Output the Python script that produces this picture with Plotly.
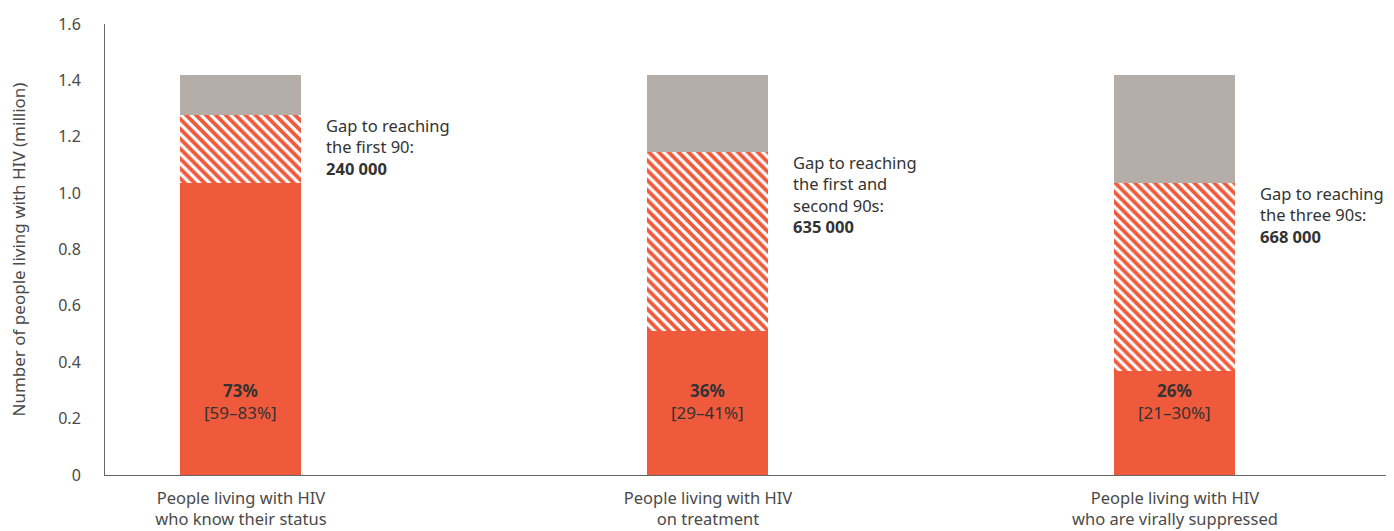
import plotly.graph_objects as go

categories = ["People living with HIV<br>who know their status",
              "People living with HIV<br>on treatment",
              "People living with HIV<br>who are virally suppressed"]
achieved = [1.037, 0.511, 0.369]          # million
gap_to_target = [0.240, 0.635, 0.668]     # million
remainder = [0.143, 0.274, 0.383]         # million
pct_labels = ["73%", "36%", "26%"]
range_labels = ["[59–83%]", "[29–41%]", "[21–30%]"]
gap_labels = ["Gap to reaching<br>the first 90:",
              "Gap to reaching<br>the first and<br>second 90s:",
              "Gap to reaching<br>the three 90s:"]
gap_values = ["240 000", "635 000", "668 000"]
y_ticks = [0, 0.2, 0.4, 0.6, 0.8, 1.0, 1.2, 1.4, 1.6]
y_tick_text = ["0", "0.2", "0.4", "0.6", "0.8", "1.0", "1.2", "1.4", "1.6"]

x = [0, 1, 2]
RED = "#F05A3C"
GREY = "#B5ADA7"
TXT = "#333333"
AX = "#4a4a4a"
FONT = "Noto Sans"

fig = go.Figure()
fig.add_bar(x=x, y=achieved, marker=dict(color=RED, line=dict(width=0)), width=0.259, hoverinfo="skip")
fig.add_bar(x=x, y=gap_to_target, width=0.259, hoverinfo="skip",
            marker=dict(color="white", line=dict(width=0),
                        pattern=dict(shape="\\", fgcolor=RED, bgcolor="white", fgopacity=1,
                                     size=7, solidity=0.55)))
fig.add_bar(x=x, y=remainder, marker=dict(color=GREY, line=dict(width=0)), width=0.259, hoverinfo="skip")

for i in range(3):
    fig.add_annotation(x=x[i], y=0.26, xref="x", yref="y", showarrow=False,
                       text=f"<b>{pct_labels[i]}</b><br>{range_labels[i]}",
                       font=dict(family=FONT, size=17, color=TXT), yanchor="middle", align="center")
    top = achieved[i] + gap_to_target[i]
    fig.add_annotation(x=x[i] + 0.177, y=top, xref="x", yref="y", showarrow=False,
                       text=f"{gap_labels[i]}<br><b>{gap_values[i]}</b>",
                       font=dict(family=FONT, size=16.5, color=TXT),
                       xanchor="left", yanchor="top", align="left", yshift=3)

# y-axis title
fig.add_annotation(x=0, y=0.5, xref="paper", yref="paper", xshift=-87, showarrow=False,
                   text="Number of people living with HIV (million)", textangle=-90,
                   font=dict(family=FONT, size=17, color=AX), xanchor="center", yanchor="middle")

# page body has an 8px margin: size/margins compensate so the axes land where the reference has them
fig.update_layout(
    barmode="stack", showlegend=False, bargap=0,
    width=1386, height=523,
    margin=dict(l=97, r=0, t=16, b=56, autoexpand=False),
    plot_bgcolor="white", paper_bgcolor="white",
    font=dict(family=FONT, size=15, color=AX),
    xaxis=dict(range=[-0.291, 2.469], tickvals=x, ticktext=categories, automargin=False,
               showline=True, linecolor="#666", linewidth=1, showgrid=False, zeroline=False,
               ticks="", ticklabelstandoff=8, tickfont=dict(size=16.5, color=AX)),
    yaxis=dict(range=[0, 1.6], tickvals=y_ticks, ticktext=y_tick_text, automargin=False,
               showline=True, linecolor="#666", linewidth=1, showgrid=False, zeroline=False,
               ticks="", ticklabelstandoff=20, tickfont=dict(size=16, color=AX)),
)
fig.write_html("out.html")
